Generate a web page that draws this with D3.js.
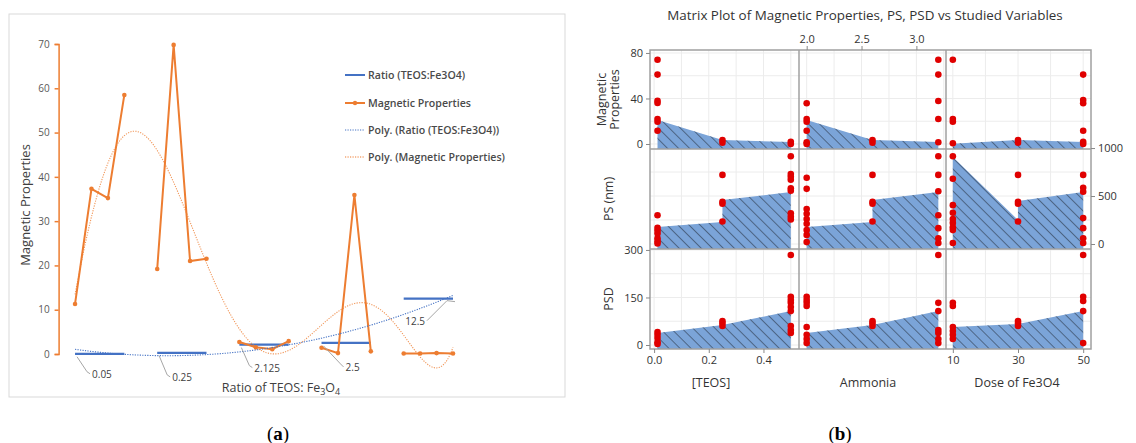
<!DOCTYPE html>
<html>
<head>
<meta charset="utf-8">
<script src="https://cdn.jsdelivr.net/npm/d3@7"></script>
<style>
  body { margin: 0; background: #fff; }
  svg { display: block; }
</style>
</head>
<body>
<script>
// ---------- panel (a) data : category index 1..24, blank rows at 5, 10, 15, 20
var categories = d3.range(1, 25);
var ratioValues = [0.05, 0.05, 0.05, 0.05, null, 0.25, 0.25, 0.25, 0.25, null,
                   2.125, 2.125, 2.125, 2.125, null, 2.5, 2.5, 2.5, 2.5, null,
                   12.5, 12.5, 12.5, 12.5];
var magneticValues = [11.3, 37.3, 35.2, 58.5, null, 19.2, 69.8, 21.0, 21.5, null,
                      2.7, 1.5, 1.1, 2.9, null, 1.4, 0.2, 35.9, 0.6, null,
                      0.1, 0.12, 0.2, 0.1];
var ratioLabelIdx = [1, 6, 11, 16, 24];      // points that carry a data label
var magTicks = [0, 10, 20, 30, 40, 50, 60, 70];
var legendNames = ["Ratio (TEOS:Fe3O4)", "Magnetic Properties",
                   "Poly. (Ratio (TEOS:Fe3O4))", "Poly. (Magnetic Properties)"];

// ---------- panel (b) data
var teosLevels = [0.0125, 0.25, 0.5];
var ammoniaLevels = [2.0, 2.6, 3.2];
var doseLevels = [10, 30, 50];
var teosTicks = [0.0, 0.2, 0.4];
var ammoniaTicks = [2.0, 2.5, 3.0];
var doseTicks = [10, 30, 50];
var magMatrixTicks = [0, 40, 80];
var psTicks = [0, 500, 1000];
var psdTicks = [0, 150, 300];
var rowNames = [["Magnetic", "Properties"], ["PS (nm)"], ["PSD"]];
var colNames = ["[TEOS]", "Ammonia", "Dose of Fe3O4"];

// red dots: for each column, values at level 0, 1, 2
var magDots = [
  [[74, 61, 38, 36, 22, 19.5, 11.7], [3.5, 1.2], [2, 0]],
  [[35.8, 22, 19.6, 11.7, 1.5, 0], [3.5, 1.2], [74, 61, 37.8, 22, 1.5]],
  [[74, 22, 19.6, 0.6], [3.5, 1.2], [61, 38.7, 35.8, 11.7, 2, 0]]
];
var psDots = [
  [[300, 170, 140, 110, 60, 30, 5], [720, 440, 420, 235], [915, 730, 700, 670, 580, 555, 320, 285, 255]],
  [[690, 575, 365, 315, 260, 210, 145, 95, 20], [720, 440, 420, 235], [915, 720, 550, 300, 165, 60, 10]],
  [[915, 680, 405, 325, 260, 220, 175, 145, 10], [720, 440, 420, 235], [720, 585, 545, 270, 165, 60, 10]]
];
var psdDots = [
  [[41, 32, 22, 9, 3], [76, 69, 60], [284, 152, 142, 133, 120, 107, 60, 47, 38]],
  [[152, 142, 133, 123, 57, 32, 19, 6], [76, 69, 60], [284, 133, 107, 47, 38, 19, 6]],
  [[133, 123, 57, 44, 32, 19], [76, 69, 60], [284, 152, 139, 107, 6]]
];
// filled areas: [level index, value]; a repeated level makes a step
var magArea = [[[0, 21], [1, 3.5], [2, 1.8]], [[0, 21], [1, 3.5], [2, 1.8]], [[0, 0.3], [1, 3.5], [2, 1.8]]];
var psArea = [[[0, 177], [1, 229], [1, 458], [2, 542]], [[0, 177], [1, 229], [1, 458], [2, 542]],
              [[0, 906], [1, 250], [1, 448], [2, 542]]];
var psdArea = [[[0, 38], [1, 63], [2, 107]], [[0, 38], [1, 63], [2, 107]], [[0, 57], [1, 66], [2, 107]]];

var svg = d3.select("body").append("svg").attr("width", 1136).attr("height", 443);
svg.append("rect").attr("width", 1136).attr("height", 443).attr("fill", "#fff");

var orange = "#ED7D31", blue = "#4472C4";
var fontA = "'Open Sans', 'Noto Sans', sans-serif";

// ================= panel (a) =================
var gA = svg.append("g");
gA.append("rect").attr("x", 9).attr("y", 14).attr("width", 556).attr("height", 383)
  .attr("fill", "none").attr("stroke", "#d9d9d9").attr("stroke-width", 1);

var xA = d3.scaleLinear().domain([0, 24]).range([58.6, 453]);
var yA = d3.scaleLinear().domain([0, 70]).range([354, 44]);

// y axis (orange)
var yAxisA = d3.axisLeft(yA).tickValues(magTicks).tickSize(4).tickPadding(5);
var yg = gA.append("g").attr("transform", "translate(58.6,0)").call(yAxisA);
yg.select(".domain").attr("stroke", orange).attr("stroke-width", 1.5);
yg.selectAll(".tick line").attr("stroke", orange).attr("stroke-width", 1.5);
yg.selectAll(".tick text").attr("fill", "#595959").attr("font-size", 10).attr("font-family", fontA);

gA.append("text").attr("transform", "translate(30,205) rotate(-90)")
  .attr("text-anchor", "middle").attr("font-family", fontA).attr("font-size", 13)
  .attr("fill", "#404040").text("Magnetic Properties");

var xt = gA.append("text").attr("x", 281).attr("y", 392).attr("text-anchor", "middle")
  .attr("font-family", fontA).attr("font-size", 12.5).attr("fill", "#404040");
xt.append("tspan").text("Ratio of TEOS: Fe");
xt.append("tspan").attr("font-size", 9).attr("dy", 3).text("3");
xt.append("tspan").attr("dy", -3).text("O");
xt.append("tspan").attr("font-size", 9).attr("dy", 3).text("4");

// polynomial trendline (least squares, like Excel)
function polyFit(xs, ys, order) {
  var pts = [];
  xs.forEach(function(x, i) { if (ys[i] != null) pts.push([(x - 12.5) / 11.5, ys[i]]); });
  var n = order + 1, A = [], b = [];
  for (var r = 0; r < n; r++) {
    A.push(new Array(n).fill(0)); b.push(0);
  }
  pts.forEach(function(p) {
    for (var r = 0; r < n; r++) {
      b[r] += Math.pow(p[0], r) * p[1];
      for (var c = 0; c < n; c++) A[r][c] += Math.pow(p[0], r + c);
    }
  });
  for (var k = 0; k < n; k++) {
    var piv = k;
    for (var r2 = k + 1; r2 < n; r2++) if (Math.abs(A[r2][k]) > Math.abs(A[piv][k])) piv = r2;
    var tmp = A[k]; A[k] = A[piv]; A[piv] = tmp;
    var tb = b[k]; b[k] = b[piv]; b[piv] = tb;
    for (var r3 = k + 1; r3 < n; r3++) {
      var f = A[r3][k] / A[k][k];
      for (var c2 = k; c2 < n; c2++) A[r3][c2] -= f * A[k][c2];
      b[r3] -= f * b[k];
    }
  }
  var coef = new Array(n).fill(0);
  for (var i = n - 1; i >= 0; i--) {
    var s = b[i];
    for (var j = i + 1; j < n; j++) s -= A[i][j] * coef[j];
    coef[i] = s / A[i][i];
  }
  return function(x) {
    var t = (x - 12.5) / 11.5, v = 0;
    for (var q = 0; q < n; q++) v += coef[q] * Math.pow(t, q);
    return v;
  };
}
var fitRatio = polyFit(categories, ratioValues, 2);
var fitMag = polyFit(categories, magneticValues, 6);
var fineX = d3.range(1, 24.001, 0.1);
var lineFit = function(fn) {
  return d3.line().x(function(d) { return xA(d); }).y(function(d) { return yA(fn(d)); });
};

// ratio series
var seriesLine = function(vals) {
  return d3.line().defined(function(d, i) { return vals[i] != null; })
    .x(function(d) { return xA(d); }).y(function(d, i) { return yA(vals[i]); });
};
gA.append("path").datum(categories).attr("d", seriesLine(ratioValues))
  .attr("fill", "none").attr("stroke", blue).attr("stroke-width", 2.2);

// magnetic series
gA.append("path").datum(categories).attr("d", seriesLine(magneticValues))
  .attr("fill", "none").attr("stroke", orange).attr("stroke-width", 2);
gA.selectAll(".mdot").data(categories.filter(function(d, i) { return magneticValues[i] != null; }))
  .enter().append("circle").attr("cx", function(d) { return xA(d); })
  .attr("cy", function(d) { return yA(magneticValues[d - 1]); })
  .attr("r", 2.3).attr("fill", orange);

// trendlines
gA.append("path").datum(fineX).attr("d", lineFit(fitRatio)).attr("fill", "none")
  .attr("stroke", blue).attr("stroke-width", 1.1).attr("stroke-dasharray", "1.2,1.3");
gA.append("path").datum(fineX).attr("d", lineFit(fitMag)).attr("fill", "none")
  .attr("stroke", orange).attr("stroke-width", 1.1).attr("stroke-dasharray", "1.2,1.3").attr("opacity", 0.8);

// data labels with leader lines  [dx1, dy1, dx2, dy2] from the point
var leaderShape = [[12, 18, 15, 20], [10, 22, 13, 24], [10, 21, 13, 23], [19, 21, 22, 24], [-6, 2, -26, 22]];
ratioLabelIdx.forEach(function(idx, k) {
  var px = xA(idx), py = yA(ratioValues[idx - 1]), s = leaderShape[k];
  var left = s[2] < 0;
  gA.append("path").attr("d", "M" + (px + 2) + "," + (py + 3) + "L" + (px + s[0]) + "," + (py + s[1]) +
      "L" + (px + s[2]) + "," + (py + s[3]))
    .attr("fill", "none").attr("stroke", "#a6a6a6").attr("stroke-width", 1);
  gA.append("text").attr("x", px + s[2] + (left ? -2 : 2)).attr("y", py + s[3] + 4)
    .attr("text-anchor", left ? "end" : "start")
    .attr("font-family", fontA).attr("font-size", 10).attr("fill", "#404040")
    .text(ratioValues[idx - 1]);
});

// legend
var legY = [75, 103, 130, 157];
legendNames.forEach(function(name, i) {
  var g = gA.append("g").attr("transform", "translate(345," + legY[i] + ")");
  var col = (i % 2 === 0) ? blue : orange;
  g.append("line").attr("x1", 0).attr("x2", 20).attr("stroke", col)
    .attr("stroke-width", i < 2 ? 2 : 1.1).attr("stroke-dasharray", i < 2 ? null : "1.2,1.3");
  if (i === 1) g.append("circle").attr("cx", 10).attr("r", 2.2).attr("fill", orange);
  g.append("text").attr("x", 23).attr("y", 3.8).attr("font-family", fontA).attr("font-size", 10.6)
    .attr("font-weight", 600).attr("fill", "#4a4a4a").text(name);
});

// ================= panel (b) =================
var fontB = "'Open Sans', 'Noto Sans', sans-serif";
var colEdges = [650, 799, 946, 1091];
var rowEdges = [50, 149, 249, 349];
var colLevels = [teosLevels, ammoniaLevels, doseLevels];
var xScales = [
  d3.scaleLinear().domain([-0.015, 0.53]).range([colEdges[0], colEdges[1]]),
  d3.scaleLinear().domain([1.93, 3.27]).range([colEdges[1], colEdges[2]]),
  d3.scaleLinear().domain([7.9, 52.4]).range([colEdges[2], colEdges[3]])
];
var yScales = [
  d3.scaleLinear().domain([-4.4, 82.6]).range([rowEdges[1], rowEdges[0]]),
  d3.scaleLinear().domain([-52, 990]).range([rowEdges[2], rowEdges[1]]),
  d3.scaleLinear().domain([-12.6, 303]).range([rowEdges[3], rowEdges[2]])
];
var gridX = [d3.range(0, 0.51, 0.1), d3.range(2.0, 3.26, 0.25), d3.range(10, 51, 10)];
var gridY = [d3.range(0, 81, 20), d3.range(0, 1001, 250), d3.range(0, 301, 75)];
var dotsByRow = [magDots, psDots, psdDots];
var areaByRow = [magArea, psArea, psdArea];

var defs = svg.append("defs");
var pat = defs.append("pattern").attr("id", "hatch").attr("patternUnits", "userSpaceOnUse")
  .attr("width", 7.8).attr("height", 7.8).attr("patternTransform", "rotate(-45)");
pat.append("line").attr("x1", 0).attr("y1", 0).attr("x2", 0).attr("y2", 7.8)
  .attr("stroke", "#2e3b4e").attr("stroke-width", 1.6);

var gB = svg.append("g");
gB.append("text").attr("x", 865).attr("y", 20).attr("text-anchor", "middle")
  .attr("font-family", fontB).attr("font-size", 13.4).attr("fill", "#333").text("Matrix Plot of Magnetic Properties, PS, PSD vs Studied Variables");

for (var r = 0; r < 3; r++) {
  for (var c = 0; c < 3; c++) {
    var xs = xScales[c], ys = yScales[r];
    var x0 = colEdges[c], x1 = colEdges[c + 1], y0 = rowEdges[r], y1 = rowEdges[r + 1];
    var cell = gB.append("g");
    cell.append("clipPath").attr("id", "clip" + r + c).append("rect")
      .attr("x", x0).attr("y", y0).attr("width", x1 - x0).attr("height", y1 - y0);
    var inner = cell.append("g").attr("clip-path", "url(#clip" + r + c + ")");
    inner.selectAll(".gx").data(gridX[c]).enter().append("line")
      .attr("x1", function(d) { return xs(d); }).attr("x2", function(d) { return xs(d); })
      .attr("y1", y0).attr("y2", y1).attr("stroke", "#ececec").attr("stroke-width", 1);
    inner.selectAll(".gy").data(gridY[r]).enter().append("line")
      .attr("y1", function(d) { return ys(d); }).attr("y2", function(d) { return ys(d); })
      .attr("x1", x0).attr("x2", x1).attr("stroke", "#ececec").attr("stroke-width", 1);

    var lv = colLevels[c];
    var area = d3.area().x(function(d) { return xs(lv[d[0]]); }).y0(y1).y1(function(d) { return ys(d[1]); });
    inner.append("path").datum(areaByRow[r][c]).attr("d", area).attr("fill", "#7ba4d8");
    inner.append("path").datum(areaByRow[r][c]).attr("d", area).attr("fill", "url(#hatch)").attr("opacity", 0.75);

    var pts = [];
    dotsByRow[r][c].forEach(function(vals, li) {
      vals.forEach(function(v) { pts.push([lv[li], v]); });
    });
    cell.selectAll(".dot").data(pts).enter().append("circle")
      .attr("cx", function(d) { return xs(d[0]); }).attr("cy", function(d) { return ys(d[1]); })
      .attr("r", 3.3).attr("fill", "#e00000");
  }
}

// frames
gB.append("rect").attr("x", colEdges[0]).attr("y", rowEdges[0])
  .attr("width", colEdges[3] - colEdges[0]).attr("height", rowEdges[3] - rowEdges[0])
  .attr("fill", "none").attr("stroke", "#a0a0a0").attr("stroke-width", 1.5);
[1, 2].forEach(function(i) {
  gB.append("line").attr("x1", colEdges[i]).attr("x2", colEdges[i]).attr("y1", rowEdges[0]).attr("y2", rowEdges[3])
    .attr("stroke", "#a0a0a0").attr("stroke-width", 1.5);
  gB.append("line").attr("y1", rowEdges[i]).attr("y2", rowEdges[i]).attr("x1", colEdges[0]).attr("x2", colEdges[3])
    .attr("stroke", "#a0a0a0").attr("stroke-width", 1.5);
});

function styleAxis(g) {
  g.select(".domain").remove();
  g.selectAll(".tick line").attr("stroke", "#888");
  g.selectAll(".tick text").attr("font-family", fontB).attr("font-size", 11).attr("fill", "#333");
}
// left axes rows 0 and 2, right axis row 1
gB.append("g").attr("transform", "translate(" + colEdges[0] + ",0)")
  .call(d3.axisLeft(yScales[0]).tickValues(magMatrixTicks).tickSize(4).tickPadding(3)).call(styleAxis);
gB.append("g").attr("transform", "translate(" + colEdges[0] + ",0)")
  .call(d3.axisLeft(yScales[2]).tickValues(psdTicks).tickSize(4).tickPadding(3)).call(styleAxis);
gB.append("g").attr("transform", "translate(" + colEdges[3] + ",0)")
  .call(d3.axisRight(yScales[1]).tickValues(psTicks).tickFormat(d3.format("d")).tickSize(4).tickPadding(3)).call(styleAxis);
// bottom axes cols 0 and 2, top axis col 1
gB.append("g").attr("transform", "translate(0," + rowEdges[3] + ")")
  .call(d3.axisBottom(xScales[0]).tickValues(teosTicks).tickFormat(d3.format(".1f")).tickSize(4).tickPadding(3)).call(styleAxis);
gB.append("g").attr("transform", "translate(0," + rowEdges[3] + ")")
  .call(d3.axisBottom(xScales[2]).tickValues(doseTicks).tickSize(4).tickPadding(3)).call(styleAxis);
gB.append("g").attr("transform", "translate(0," + rowEdges[0] + ")")
  .call(d3.axisTop(xScales[1]).tickValues(ammoniaTicks).tickFormat(d3.format(".1f")).tickSize(4).tickPadding(3)).call(styleAxis);

// row titles
rowNames.forEach(function(lines, r) {
  var cy = (rowEdges[r] + rowEdges[r + 1]) / 2;
  var t = gB.append("text").attr("transform", "translate(" + (lines.length > 1 ? 606 : 613) + "," + cy + ") rotate(-90)")
    .attr("text-anchor", "middle").attr("font-family", fontB).attr("font-size", 12.5).attr("fill", "#333");
  lines.forEach(function(l, i) {
    t.append("tspan").attr("x", 0).attr("dy", i === 0 ? 0 : 13).text(l);
  });
});
// column titles
var colTitleX = [711, 868, 1017];
colNames.forEach(function(n, c) {
  gB.append("text").attr("x", colTitleX[c]).attr("y", 387).attr("text-anchor", "middle")
    .attr("font-family", fontB).attr("font-size", 12.5).attr("fill", "#333").text(n);
});

// panel captions
function caption(x, letter) {
  var t = svg.append("text").attr("x", x).attr("y", 440).attr("text-anchor", "middle")
    .attr("font-family", "'Liberation Serif', 'DejaVu Serif', serif").attr("font-size", 19).attr("fill", "#000");
  t.append("tspan").text("(");
  t.append("tspan").attr("font-weight", "bold").text(letter);
  t.append("tspan").text(")");
}
caption(278, "a");
caption(840, "b");
</script>
</body>
</html>
